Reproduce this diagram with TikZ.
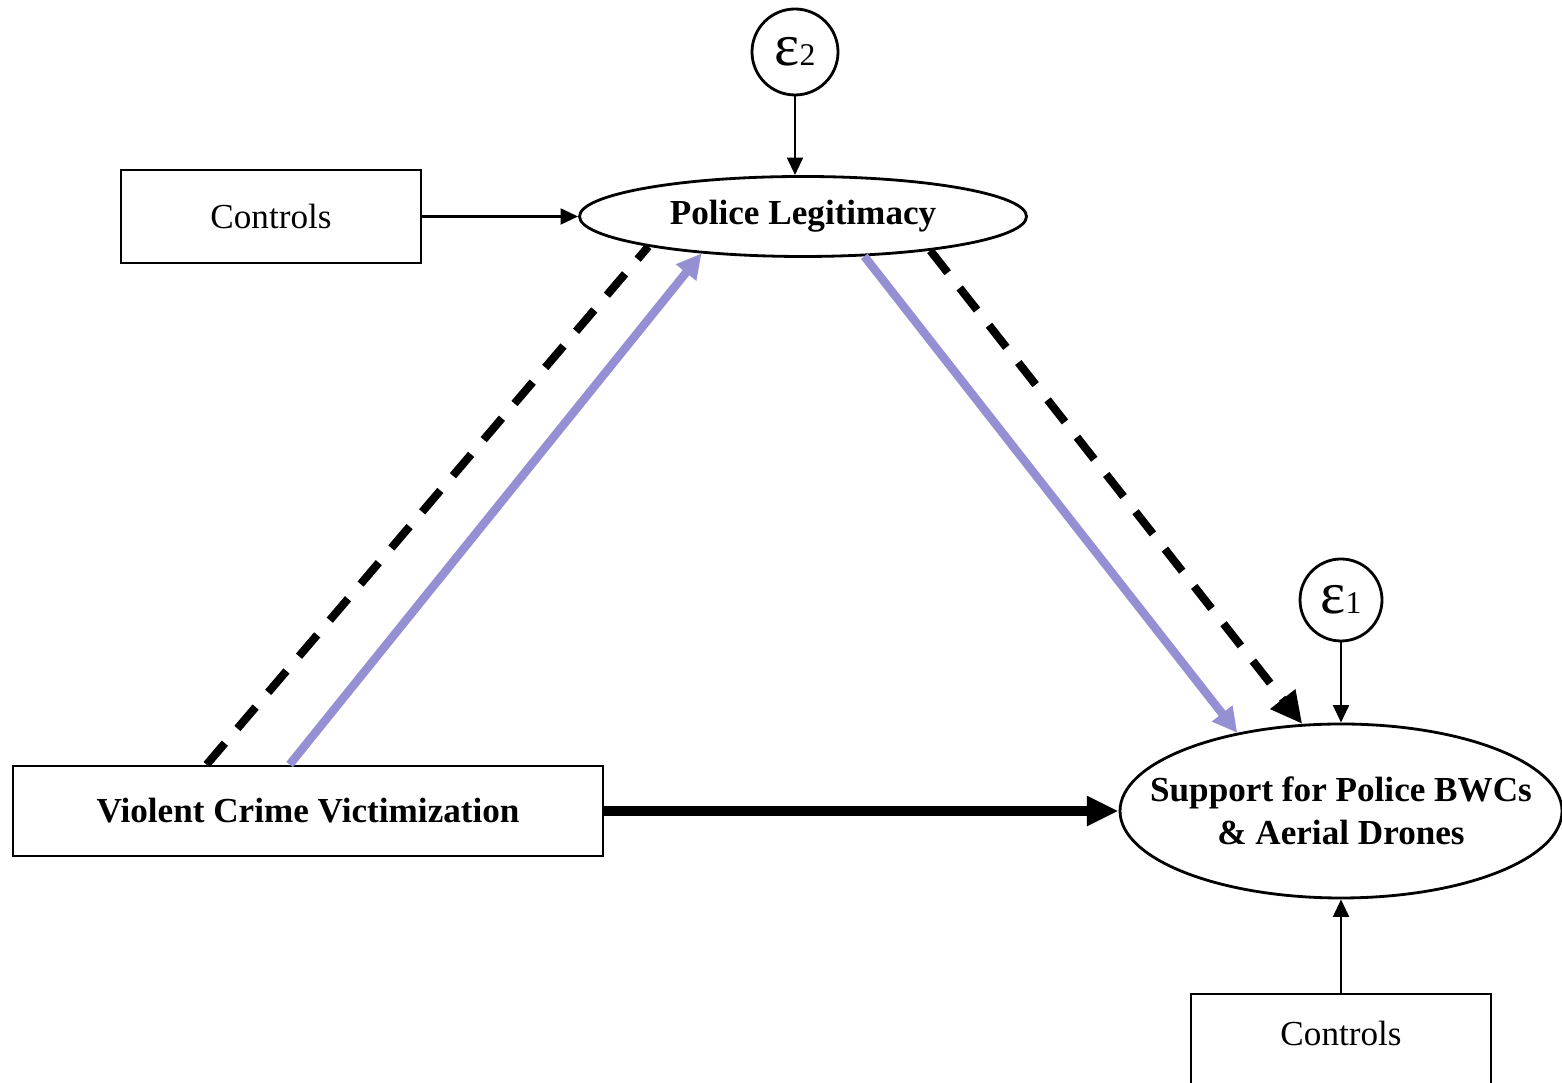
\documentclass[tikz,border=0pt]{standalone}
\usepackage{fontspec}
\setmainfont{Liberation Serif}
\usetikzlibrary{shapes.geometric,arrows.meta,calc}
\definecolor{lav}{RGB}{149,144,212}
\newcommand{\errlab}[1]{{\fontsize{17}{17}\selectfont ε}{\fontsize{9}{9}\selectfont #1}}

\begin{document}
\begin{tikzpicture}[
  box/.style={draw,line width=0.8pt,minimum width=3cm,minimum height=0.93cm,font=\fontsize{10}{12}\selectfont},
  latent/.style={draw,ellipse,line width=0.8pt,inner sep=0pt,align=center,font=\bfseries\fontsize{10}{12.2}\selectfont},
  err/.style={draw,circle,line width=0.8pt,inner sep=0pt},
  link/.style={line width=0.8pt,-{Triangle[length=5pt,width=4.5pt]}},
  direct/.style={line width=2.7pt,-{Triangle[length=9pt,width=8pt]}},
  mediated/.style={line width=2.4pt,lav,-{Triangle[length=7pt,width=7pt]}},
  nonsig/.style={line width=2.3pt,dash pattern=on 8pt off 5.5pt}
]
  % \draw[thin,gray!40] (0,0) grid (16,11);
  \useasboundingbox (0,0) rectangle (15.62,10.83);
  \clip (0,0) rectangle (15.62,10.83);

  \node[err,minimum size=0.86cm] (e2) at (7.95,10.31) {\errlab{2}};
  \node[box] (ctrlA) at (2.71,8.665) {Controls};
  \node[latent,minimum width=4.47cm,minimum height=0.8cm] (legit) at (8.03,8.665) {\raisebox{2pt}{Police Legitimacy}};
  \node[box,minimum width=5.9cm,minimum height=0.9cm,font=\bfseries\fontsize{10}{12}\selectfont] (vcv) at (3.08,2.72) {Violent Crime Victimization};
  \node[latent,inner xsep=-0.35cm,minimum width=4.42cm,minimum height=1.74cm] (supp) at (13.41,2.72) {Support for Police BWCs\\\& Aerial Drones};
  \node[err,minimum size=0.82cm] (e1) at (13.41,4.83) {\errlab{1}};
  \node[box] (ctrlB) at (13.41,0.425) {\raisebox{4pt}{Controls}};

  \draw[link] (e2) -- (e2 |- legit.north);
  \draw[link] (ctrlA.east) -- (legit.west);
  \draw[link] (e1) -- (supp.north);
  \draw[link] (ctrlB.north) -- (supp.south);

  \draw[nonsig] ($(vcv.north west)!0.329!(vcv.north east)$) -- (legit.191.8);
  \draw[mediated] ($(vcv.north west)!0.469!(vcv.north east)$) -- (legit.200.6);
  \draw[mediated] (legit.327) -- (supp.143.7);
  \draw[nonsig,-{Triangle[length=9pt,width=8.5pt]}] (legit.345.8) -- (supp.114.5);
  \draw[direct] (vcv.east) -- (supp.west);
\end{tikzpicture}
\end{document}
